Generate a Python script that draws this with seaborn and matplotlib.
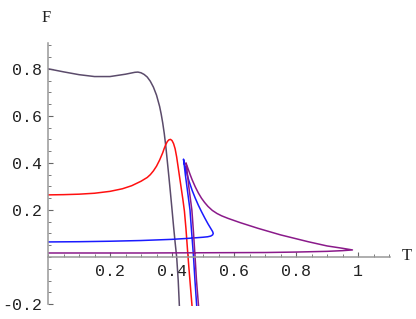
import matplotlib
matplotlib.use('Agg')
import matplotlib.pyplot as plt
import seaborn as sns
import pandas as pd
from matplotlib.ticker import MultipleLocator, FixedLocator

# curve 1 (dark purple)
t1 = [0.0, 0.05, 0.10, 0.15, 0.20, 0.25, 0.28, 0.29, 0.30, 0.31, 0.32, 0.33,
      0.34, 0.35, 0.36, 0.365, 0.37, 0.375, 0.38, 0.385, 0.39, 0.395, 0.40,
      0.405, 0.41, 0.415, 0.42, 0.424]
f1 = [0.800, 0.787, 0.775, 0.767, 0.767, 0.777, 0.785, 0.786, 0.783, 0.776,
      0.765, 0.747, 0.722, 0.688, 0.640, 0.608, 0.570, 0.525, 0.470, 0.405,
      0.340, 0.272, 0.202, 0.130, 0.062, 0.000, -0.100, -0.215]

# curve 2 (red)
t2 = [0.0, 0.05, 0.10, 0.15, 0.20, 0.24, 0.27, 0.30, 0.32, 0.33, 0.34, 0.35,
      0.36, 0.37, 0.375, 0.38, 0.385, 0.39, 0.395, 0.40, 0.405, 0.41, 0.415,
      0.42, 0.425, 0.43, 0.435, 0.44, 0.445, 0.45, 0.455, 0.46, 0.465]
f2 = [0.264, 0.265, 0.267, 0.271, 0.279, 0.290, 0.303, 0.322, 0.338, 0.350,
      0.366, 0.386, 0.412, 0.443, 0.462, 0.478, 0.491, 0.498, 0.500, 0.495,
      0.482, 0.460, 0.425, 0.380, 0.335, 0.290, 0.245, 0.195, 0.120, 0.030,
      -0.055, -0.135, -0.215]

# curve 3 (blue): lower branch -> right cusp -> upper branch -> left cusp -> steep branch
t3 = [0.0, 0.10, 0.20, 0.30, 0.40, 0.45, 0.48, 0.50, 0.515, 0.525, 0.531,
      0.533, 0.531, 0.526, 0.516, 0.506, 0.495, 0.485, 0.475, 0.465, 0.455,
      0.450, 0.445, 0.440, 0.437, 0.439, 0.443, 0.448, 0.453, 0.458, 0.463,
      0.469, 0.474, 0.480]
f3 = [0.064, 0.065, 0.067, 0.070, 0.075, 0.079, 0.082, 0.084, 0.086, 0.089,
      0.094, 0.100, 0.108, 0.119, 0.141, 0.165, 0.193, 0.220, 0.250, 0.283,
      0.322, 0.345, 0.370, 0.395, 0.416, 0.395, 0.350, 0.300, 0.250, 0.200,
      0.110, 0.008, -0.100, -0.215]

# curve 4 (purple): lower branch -> right cusp -> upper branch -> left cusp -> steep branch
t4 = [0.0, 0.30, 0.50, 0.70, 0.80, 0.90, 0.95, 0.982, 0.95, 0.90, 0.839,
      0.75, 0.677, 0.62, 0.581, 0.56, 0.545, 0.53, 0.516, 0.505, 0.495,
      0.485, 0.475, 0.465, 0.458, 0.451, 0.445, 0.449, 0.454, 0.459, 0.464,
      0.469, 0.474, 0.479, 0.486]
f4 = [0.017, 0.017, 0.018, 0.019, 0.021, 0.024, 0.027, 0.030, 0.037, 0.047,
      0.065, 0.094, 0.122, 0.146, 0.164, 0.175, 0.185, 0.198, 0.215, 0.232,
      0.250, 0.272, 0.298, 0.328, 0.352, 0.378, 0.400, 0.360, 0.300, 0.250,
      0.200, 0.110, 0.008, -0.100, -0.215]

colors = ['#5b4b6b', '#ff1010', '#1a1aff', '#8a1a8a']
xticks = [0.2, 0.4, 0.6, 0.8, 1.0]
xticklabels = ['0.2', '0.4', '0.6', '0.8', '1']
yticks = [-0.2, 0.2, 0.4, 0.6, 0.8]
yticklabels = ['-0.2', '0.2', '0.4', '0.6', '0.8']

sns.set_style('white')
plt.rcParams['font.family'] = ['Liberation Mono', 'DejaVu Sans']

fig = plt.figure(figsize=(4.16, 3.19), dpi=100)
ax = fig.add_axes([0.1154, 0.0395, 0.822, 0.826])

curves = [(t1, f1), (t2, f2), (t3, f3), (t4, f4)]
for (t, f), c in zip(curves, colors):
    df = pd.DataFrame({'T': t, 'F': f})
    sns.lineplot(data=df, x='T', y='F', sort=False, estimator=None,
                 color=c, linewidth=1.1, ax=ax)

ax.set_xlim(0, 1.103)
ax.set_ylim(-0.21, 0.91)

for s in ['top', 'right']:
    ax.spines[s].set_visible(False)
ax.spines['left'].set_position(('data', 0))
ax.spines['bottom'].set_position(('data', 0))
ax.spines['left'].set_bounds(-0.2, 0.91)
for s in ['left', 'bottom']:
    ax.spines[s].set_color('#999999')
    ax.spines[s].set_linewidth(1.1)

ax.xaxis.set_major_locator(FixedLocator(xticks))
ax.set_xticklabels(xticklabels)
ax.xaxis.set_minor_locator(MultipleLocator(0.05))
ax.yaxis.set_major_locator(FixedLocator(yticks))
ax.set_yticklabels(yticklabels)
ax.yaxis.set_minor_locator(MultipleLocator(0.05))

ax.tick_params(which='both', direction='in', bottom=True, left=True,
               colors='#666666', labelcolor='#222222')
ax.tick_params(which='major', length=3.5, width=0.8, labelsize=12)
ax.tick_params(which='minor', length=2, width=0.6)
ax.tick_params(axis='x', which='major', pad=5)
ax.tick_params(axis='y', which='major', pad=4)
ax.set_xlabel('')
ax.set_ylabel('')

fig.text(46 / 416, 1 - 18 / 319, 'F', family='Liberation Serif', fontsize=12,
         ha='center', va='center', color='#222222')
fig.text(407 / 416, 1 - 256 / 319, 'T', family='Liberation Serif', fontsize=12,
         ha='center', va='center', color='#222222')

fig.savefig('out.png', dpi=100)
